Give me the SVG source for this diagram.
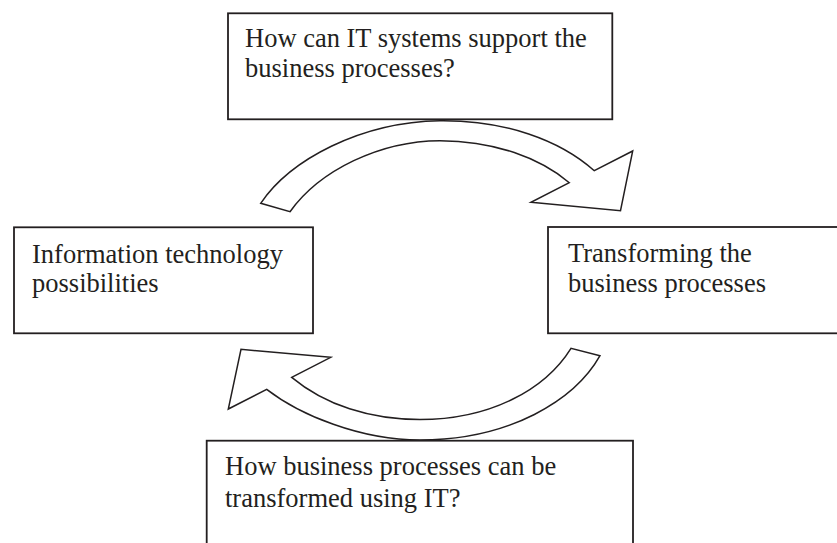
<svg xmlns="http://www.w3.org/2000/svg" width="837" height="543" viewBox="0 0 837 543">
<style>
.box{fill:#fff;stroke:#231f20;stroke-width:1.8}
.arrow{fill:#fff;stroke:#231f20;stroke-width:1.5;stroke-linejoin:miter}
.lbl{font-family:"Liberation Serif","Times New Roman",serif;font-size:26.5px;fill:#231f20}
</style>
<rect width="837" height="543" fill="#fff"/>
<g id="connectors">
<path id="arrow-top" class="arrow" d="M260.7,203.3 C290,160 360,122 440,120.7 C505,120 560,140 594.3,170.7 L632.7,151 L620.5,210.7 L531,202.3 L569.3,182.7 C540,158 495,141 440,140.7 C380,141 320,170 290,211.7 Z"/>
<path id="arrow-bottom" class="arrow" d="M600,355.7 C575,400 510,440 420,440 C360,440 300,415 266.7,389.3 L228.3,409 L241,349.3 L330.7,357.3 L291.7,377.3 C325,405 370,419.5 420,419.5 C490,419.5 545,390 571,348.3 Z"/>
</g>
<g id="node-top">
<rect class="box" x="228" y="13.3" width="384.3" height="106"/>
<text class="lbl" x="245" y="46.7">How can IT systems support the</text>
<text class="lbl" x="245" y="77.3">business processes?</text>
</g>
<g id="node-left">
<rect class="box" x="14" y="227.3" width="299" height="106"/>
<text class="lbl" x="32" y="263.3">Information technology</text>
<text class="lbl" x="32" y="292">possibilities</text>
</g>
<g id="node-right">
<rect class="box" x="548" y="227" width="300" height="106.3"/>
<text class="lbl" x="568" y="261.7">Transforming the</text>
<text class="lbl" x="568" y="291.7">business processes</text>
</g>
<g id="node-bottom">
<rect class="box" x="206.7" y="440.7" width="426.3" height="120"/>
<text class="lbl" x="225" y="475">How business processes can be</text>
<text class="lbl" x="225" y="507">transformed using IT?</text>
</g>
</svg>
